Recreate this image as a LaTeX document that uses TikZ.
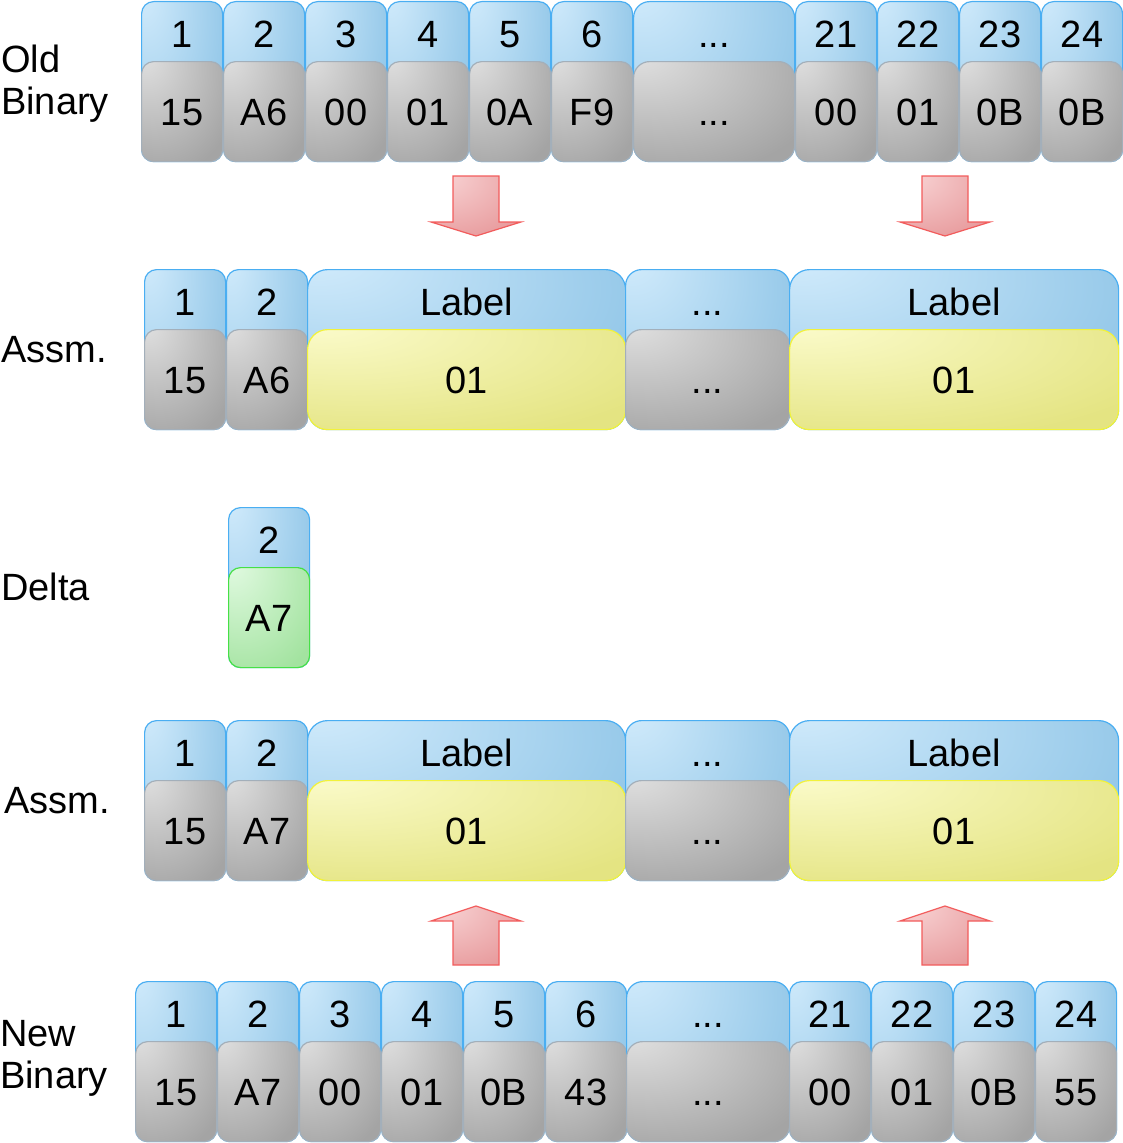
\documentclass[tikz,border=0pt]{standalone}
\usepackage{fontspec}
\setmainfont{Liberation Sans}

\definecolor{blA}{HTML}{D3ECFC}
\definecolor{blB}{HTML}{8CC3E6}
\definecolor{blLine}{HTML}{4AAEF2}
\definecolor{grA}{HTML}{E2E2E2}
\definecolor{grB}{HTML}{A4A4A4}
\definecolor{grLine}{HTML}{A3AFBA}
\definecolor{ylA}{HTML}{FCFCCE}
\definecolor{ylB}{HTML}{E4E482}
\definecolor{ylLine}{HTML}{F2F23A}
\definecolor{gnA}{HTML}{E4FBE4}
\definecolor{gnB}{HTML}{A3E3A0}
\definecolor{gnLine}{HTML}{46E046}
\definecolor{rdA}{HTML}{FADADB}
\definecolor{rdB}{HTML}{E7999B}
\definecolor{rdLine}{HTML}{F25C5C}

\pgfdeclareradialshading[blA,blB]{blueglow}{\pgfpoint{-25bp}{30bp}}{color(0bp)=(blA); color(48bp)=(blB); color(100bp)=(blB)}
\pgfdeclareradialshading[grA,grB]{greyglow}{\pgfpoint{-25bp}{30bp}}{color(0bp)=(grA); color(48bp)=(grB); color(100bp)=(grB)}
\pgfdeclareradialshading[ylA,ylB]{yellowglow}{\pgfpoint{-25bp}{30bp}}{color(0bp)=(ylA); color(48bp)=(ylB); color(100bp)=(ylB)}
\pgfdeclareradialshading[gnA,gnB]{greenglow}{\pgfpoint{-25bp}{30bp}}{color(0bp)=(gnA); color(48bp)=(gnB); color(100bp)=(gnB)}
\pgfdeclareradialshading[rdA,rdB]{redglow}{\pgfpoint{-25bp}{30bp}}{color(0bp)=(rdA); color(48bp)=(rdB); color(100bp)=(rdB)}

\tikzset{
	bigfont/.style={font=\fontsize{38}{42}\selectfont},
	hdrcell/.style={rectangle, draw=blLine, line width=1.2pt, shading=blueglow, anchor=north west, minimum height=160pt, inner sep=0pt},
	valcell/.style={rectangle, line width=1.2pt, anchor=south, minimum height=100pt, inner sep=0pt, bigfont, text height=27pt, text depth=0pt},
	greycell/.style={valcell, draw=grLine, shading=greyglow},
	yellowcell/.style={valcell, draw=ylLine, shading=yellowglow},
	greencell/.style={valcell, draw=gnLine, shading=greenglow},
	celltext/.style={inner sep=0pt, bigfont, text height=27pt, text depth=0pt},
	sidetext/.style={inner sep=0pt, bigfont, anchor=base west},
	blockarrow/.style={draw=rdLine, line width=1.2pt, shading=redglow}
}

% name, x, y, width, index, value, value style, corner radius
\newcommand{\bytecell}[8]{%
	\node[hdrcell, minimum width=#4, rounded corners=#8] (#1) at (#2,#3) {};
	\node[#7, minimum width=#4, rounded corners=#8] (#1v) at (#1.south) {#6};
	\path (#1.north) ++(0,33) node[celltext] (#1i) {#5};
}

\begin{document}
\begin{tikzpicture}[x=1pt, y=-1pt]
	\useasboundingbox (0,0) rectangle (1123,1143);

	% old binary
	\node[sidetext] (oldA) at (1,72) {Old};
	\node[sidetext] (oldB) at (1,114) {Binary};
	\bytecell{o1}{141}{1}{81pt}{1}{15}{greycell}{12pt}
	\bytecell{o2}{223}{1}{81pt}{2}{A6}{greycell}{12pt}
	\bytecell{o3}{305}{1}{81pt}{3}{00}{greycell}{12pt}
	\bytecell{o4}{387}{1}{81pt}{4}{01}{greycell}{12pt}
	\bytecell{o5}{469}{1}{81pt}{5}{0A}{greycell}{12pt}
	\bytecell{o6}{551}{1}{81pt}{6}{F9}{greycell}{12pt}
	\bytecell{odots}{633}{1}{161pt}{...}{...}{greycell}{16pt}
	\bytecell{o21}{795}{1}{81pt}{21}{00}{greycell}{12pt}
	\bytecell{o22}{877}{1}{81pt}{22}{01}{greycell}{12pt}
	\bytecell{o23}{959}{1}{81pt}{23}{0B}{greycell}{12pt}
	\bytecell{o24}{1041}{1}{81pt}{24}{0B}{greycell}{12pt}

	\draw[blockarrow] (476,176) -- ++(23,0) -- ++(0,46) -- ++(22,0) -- ++(-45,14) -- ++(-45,-14) -- ++(22,0) -- ++(0,-46) -- cycle;
	\draw[blockarrow] (945,176) -- ++(23,0) -- ++(0,46) -- ++(22,0) -- ++(-45,14) -- ++(-45,-14) -- ++(22,0) -- ++(0,-46) -- cycle;

	% assembled
	\node[sidetext] (asmA) at (1,362) {Assm.};
	\bytecell{a1}{144}{269}{81pt}{1}{15}{greycell}{12pt}
	\bytecell{a2}{226}{269}{81pt}{2}{A6}{greycell}{12pt}
	\bytecell{alabA}{307}{269}{318pt}{Label}{01}{yellowcell}{20pt}
	\bytecell{adots}{625}{269}{164pt}{...}{...}{greycell}{16pt}
	\bytecell{alabB}{789}{269}{329pt}{Label}{01}{yellowcell}{20pt}

	% delta
	\node[sidetext] (delta) at (1,600) {Delta};
	\bytecell{d2}{228}{507}{81pt}{2}{A7}{greencell}{12pt}

	% assembled again
	\node[sidetext] (asmB) at (4,813) {Assm.};
	\bytecell{b1}{144}{720}{81pt}{1}{15}{greycell}{12pt}
	\bytecell{b2}{226}{720}{81pt}{2}{A7}{greycell}{12pt}
	\bytecell{blabA}{307}{720}{318pt}{Label}{01}{yellowcell}{20pt}
	\bytecell{bdots}{625}{720}{164pt}{...}{...}{greycell}{16pt}
	\bytecell{blabB}{789}{720}{329pt}{Label}{01}{yellowcell}{20pt}

	\draw[blockarrow] (476,906) -- ++(45,15) -- ++(-22,0) -- ++(0,44) -- ++(-46,0) -- ++(0,-44) -- ++(-22,0) -- cycle;
	\draw[blockarrow] (945,906) -- ++(45,15) -- ++(-22,0) -- ++(0,44) -- ++(-46,0) -- ++(0,-44) -- ++(-22,0) -- cycle;

	% new binary
	\node[sidetext] (newA) at (0,1046) {New};
	\node[sidetext] (newB) at (0,1088) {Binary};
	\bytecell{n1}{135}{981}{81pt}{1}{15}{greycell}{12pt}
	\bytecell{n2}{217}{981}{81pt}{2}{A7}{greycell}{12pt}
	\bytecell{n3}{299}{981}{81pt}{3}{00}{greycell}{12pt}
	\bytecell{n4}{381}{981}{81pt}{4}{01}{greycell}{12pt}
	\bytecell{n5}{463}{981}{81pt}{5}{0B}{greycell}{12pt}
	\bytecell{n6}{545}{981}{81pt}{6}{43}{greycell}{12pt}
	\bytecell{ndots}{626}{981}{163pt}{...}{...}{greycell}{16pt}
	\bytecell{n21}{789}{981}{81pt}{21}{00}{greycell}{12pt}
	\bytecell{n22}{871}{981}{81pt}{22}{01}{greycell}{12pt}
	\bytecell{n23}{953}{981}{81pt}{23}{0B}{greycell}{12pt}
	\bytecell{n24}{1035}{981}{81pt}{24}{55}{greycell}{12pt}
\end{tikzpicture}
\end{document}
